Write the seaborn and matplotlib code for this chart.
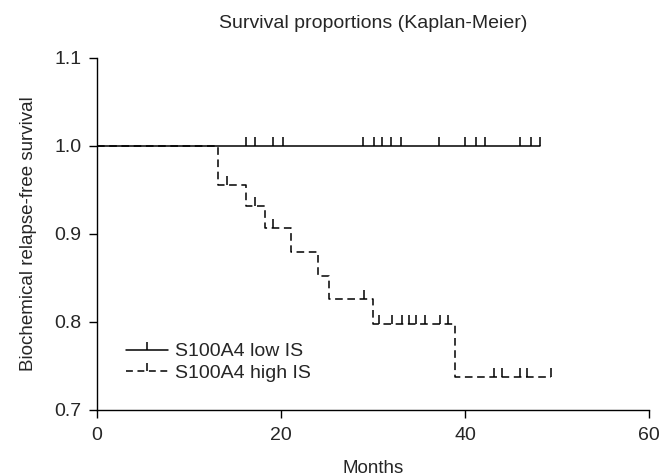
import numpy as np
import pandas as pd
import matplotlib
matplotlib.use("Agg")
import matplotlib.pyplot as plt
from matplotlib.lines import Line2D
import seaborn as sns

# Kaplan-Meier curves
low_end = 48.2
low_censor = [16.2, 17.2, 19.1, 20.2, 28.9, 30.1, 31.0, 32.0, 33.0,
              37.2, 40.0, 41.2, 42.2, 46.0, 47.2, 48.2]

high_times = [0, 13.1, 16.2, 18.3, 21.05, 24.05, 25.2, 30.0, 38.9]
high_surv = [1.0, 0.955, 0.932, 0.907, 0.879, 0.852, 0.826, 0.798, 0.738]
high_end = 49.3
high_censor = [14.1, 17.2, 19.1, 29.0, 30.7, 32.1, 33.1, 33.9, 34.7, 35.6,
               37.3, 38.2, 43.2, 44.0, 46.0, 46.7, 49.3]

labels = ["S100A4 low IS", "S100A4 high IS"]

sns.set_style("ticks")
plt.rcParams['font.family'] = ['Liberation Sans', 'DejaVu Sans']

fig, ax = plt.subplots(figsize=(6.72, 4.76), dpi=100)
fig.subplots_adjust(left=0.1443, right=0.9658, bottom=0.1387, top=0.879)

# low IS: flat line
low_df = pd.DataFrame({'t': [0, low_end], 's': [1.0, 1.0]})
sns.lineplot(data=low_df, x='t', y='s', color='k', lw=1.1, ax=ax, drawstyle='steps-post')
sns.scatterplot(x=low_censor, y=[1.0] * len(low_censor), marker=2, s=40,
                color='k', linewidth=1.1, ax=ax, zorder=3)

# high IS: dashed step curve
high_df = pd.DataFrame({'t': high_times + [high_end], 's': high_surv + [high_surv[-1]]})
sns.lineplot(data=high_df, x='t', y='s', color='k', lw=1.1, ax=ax,
             drawstyle='steps-post', linestyle=(0, (5, 3)))
idx = np.searchsorted(high_times, high_censor, side='right') - 1
hc_y = [high_surv[i] for i in idx]
sns.scatterplot(x=high_censor, y=hc_y, marker=2, s=40,
                color='k', linewidth=1.1, ax=ax, zorder=3)

ax.set_xlim(0, 60)
ax.set_ylim(0.7, 1.1)
ax.set_xticks([0, 20, 40, 60])
ax.set_yticks([0.7, 0.8, 0.9, 1.0, 1.1])
ax.set_yticklabels(["0.7", "0.8", "0.9", "1.0", "1.1"])
ax.margins(0)
sns.despine(ax=ax)
for s in ['left', 'bottom']:
    ax.spines[s].set_linewidth(1.0)
    ax.spines[s].set_color('k')
ax.tick_params(axis='both', length=6, width=1.0, color='k', labelsize=14)
ax.tick_params(axis='x', pad=6)
ax.tick_params(axis='y', pad=5)

ax.set_xlabel("Months", fontsize=13.5, labelpad=12)
ax.set_ylabel("Biochemical relapse-free survival", fontsize=13.5, labelpad=13)
ax.set_title("Survival proportions (Kaplan-Meier)", fontsize=14, pad=21)

handles = [Line2D([], [], color='k', lw=1.1, marker=2, markersize=6, markeredgewidth=1.1),
           Line2D([], [], color='k', lw=1.1, ls=(0, (4.5, 3)), marker=2, markersize=6,
                  markeredgewidth=1.1)]
ax.legend(handles, labels, loc='lower left', bbox_to_anchor=(0.02, 0.03),
          frameon=False, fontsize=14, handlelength=2.2, numpoints=1,
          handletextpad=0.35, labelspacing=0.2)

fig.savefig("out.png", dpi=100)
